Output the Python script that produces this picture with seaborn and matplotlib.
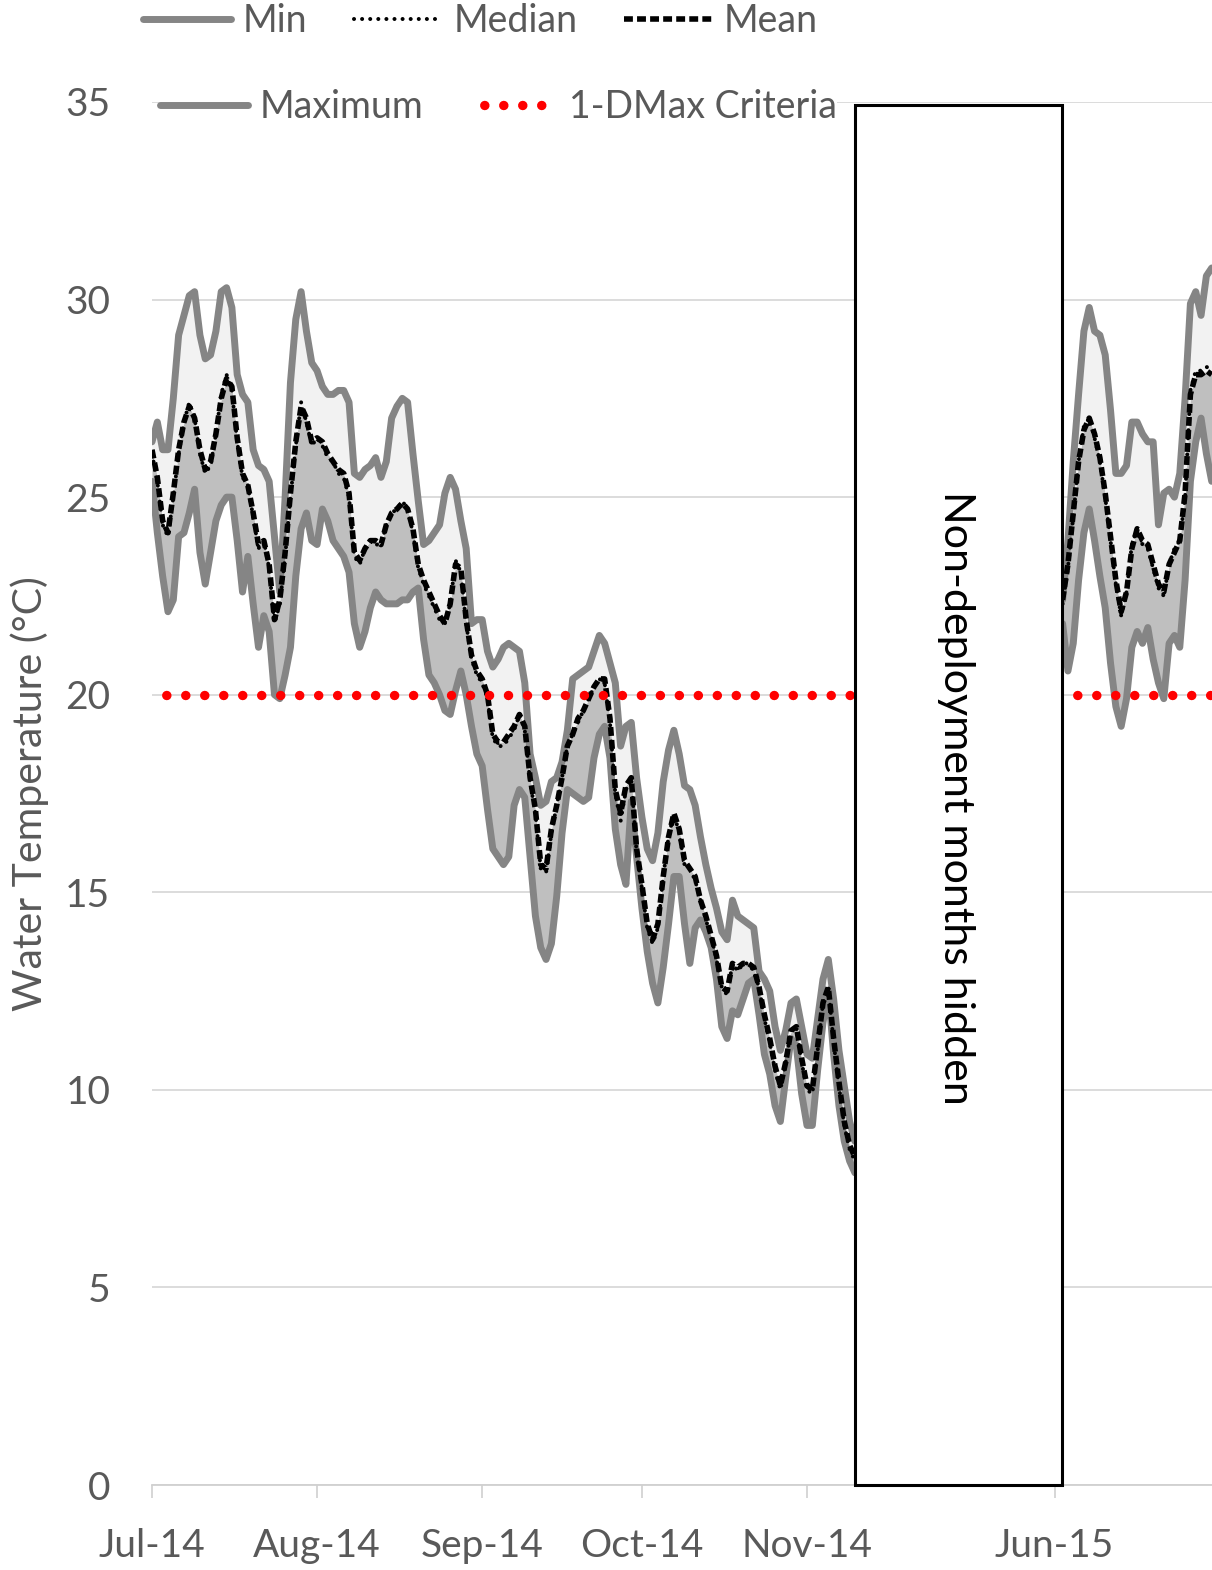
import numpy as np
import pandas as pd
import matplotlib
matplotlib.use("Agg")
import matplotlib.pyplot as plt
from matplotlib.lines import Line2D
from matplotlib.patches import Rectangle
import seaborn as sns

# ---------------- data (daily values) ----------------
# segment 1: 1 Jul 2014 .. 10 Nov 2014 (day index 0..132)
max_2014 = [26.4, 26.9, 26.2, 26.2, 27.5, 29.1, 29.6, 30.1, 30.2, 29.1,
            28.5, 28.6, 29.2, 30.2, 30.3, 29.8, 28.1, 27.6, 27.4, 26.2,
            25.8, 25.7, 25.4, 24.0, 22.6, 25.0, 27.9, 29.5, 30.2, 29.2,
            28.4, 28.2, 27.8, 27.6, 27.6, 27.7, 27.7, 27.4, 25.6, 25.5,
            25.7, 25.8, 26.0, 25.5, 25.9, 27.0, 27.3, 27.5, 27.4, 26.1,
            24.9, 23.8, 23.9, 24.1, 24.3, 25.1, 25.5, 25.2, 24.4, 23.7,
            21.8, 21.9, 21.9, 21.1, 20.7, 20.9, 21.2, 21.3, 21.2, 21.1,
            20.3, 18.5, 17.9, 17.2, 17.3, 17.8, 17.9, 18.3, 19.1, 20.4,
            20.5, 20.6, 20.7, 21.1, 21.5, 21.3, 20.8, 20.3, 18.7, 19.2,
            19.3, 17.9, 16.9, 16.1, 15.8, 16.5, 17.8, 18.6, 19.1, 18.5,
            17.7, 17.6, 17.2, 16.4, 15.7, 15.1, 14.6, 14.0, 13.8, 14.8,
            14.4, 14.3, 14.2, 14.1, 13.0, 12.8, 12.5, 11.6, 11.0, 11.5,
            12.2, 12.3, 11.6, 10.9, 10.8, 11.8, 12.8, 13.3, 12.3, 11.0,
            10.1, 9.2, 8.7]
min_2014 = [25.4, 24.1, 23.0, 22.1, 22.4, 24.0, 24.1, 24.6, 25.2, 23.6,
            22.8, 23.6, 24.4, 24.8, 25.0, 25.0, 23.9, 22.6, 23.5, 22.3,
            21.2, 22.0, 21.6, 20.0, 19.9, 20.5, 21.2, 23.0, 24.2, 24.6,
            23.9, 23.8, 24.7, 24.4, 23.9, 23.7, 23.5, 23.1, 21.8, 21.2,
            21.6, 22.2, 22.6, 22.4, 22.3, 22.3, 22.3, 22.4, 22.4, 22.6,
            22.7, 21.4, 20.5, 20.3, 20.0, 19.6, 19.5, 20.1, 20.6, 20.0,
            19.2, 18.5, 18.2, 17.1, 16.1, 15.9, 15.7, 15.9, 17.2, 17.6,
            17.4, 15.9, 14.4, 13.6, 13.3, 13.7, 14.9, 16.5, 17.6, 17.5,
            17.4, 17.3, 17.4, 18.4, 19.0, 19.2, 18.4, 16.6, 15.7, 15.2,
            17.3, 15.9, 14.6, 13.5, 12.7, 12.2, 13.1, 14.2, 15.4, 15.4,
            14.2, 13.2, 14.1, 14.3, 14.0, 13.6, 12.8, 11.6, 11.3, 12.0,
            11.9, 12.3, 12.7, 12.8, 11.9, 10.9, 10.4, 9.6, 9.2, 10.3,
            11.3, 11.1, 9.9, 9.1, 9.1, 10.5, 11.7, 12.5, 10.9, 9.6,
            8.7, 8.2, 7.9]
mean_2014 = [26.2, 25.5, 24.4, 24.1, 25.1, 26.2, 26.9, 27.3, 27.0, 26.2,
             25.7, 25.9, 26.6, 27.5, 28.0, 27.8, 26.5, 25.6, 25.3, 24.6,
             23.8, 23.9, 23.3, 21.9, 22.4, 23.6, 25.1, 26.4, 27.3, 27.0,
             26.4, 26.5, 26.4, 26.1, 25.9, 25.7, 25.6, 25.1, 23.6, 23.4,
             23.7, 23.9, 23.9, 23.8, 24.3, 24.6, 24.7, 24.85, 24.7, 24.2,
             23.3, 22.9, 22.6, 22.3, 22.0, 21.8, 22.3, 23.3, 23.2, 21.9,
             21.0, 20.6, 20.4, 20.0, 19.0, 18.8, 18.8, 19.0, 19.2, 19.5,
             19.2, 17.9, 17.1, 15.7, 15.6, 16.6, 17.2, 17.9, 18.7, 19.0,
             19.4, 19.6, 19.9, 20.2, 20.4, 20.4, 19.4, 17.6, 17.0, 17.7,
             17.9, 16.1, 15.2, 14.2, 13.8, 14.2, 15.4, 16.4, 17.0, 16.6,
             15.8, 15.6, 15.4, 14.8, 14.4, 13.9, 13.4, 12.6, 12.5, 13.2,
             13.1, 13.2, 13.2, 13.1, 12.6, 11.9, 11.3, 10.6, 10.1, 10.7,
             11.5, 11.6, 10.8, 10.1, 10.0, 11.1, 12.2, 12.6, 11.3, 10.2,
             9.2, 8.6, 8.3]
median_2014 = [26.1, 25.4, 24.3, 24.0, 25.0, 26.1, 26.9, 27.4, 27.0, 26.1,
               25.6, 25.8, 26.6, 27.6, 28.1, 27.7, 26.4, 25.5, 25.3, 24.5,
               23.7, 23.9, 23.2, 21.8, 22.3, 23.5, 25.0, 26.3, 27.4, 26.9,
               26.3, 26.5, 26.3, 26.0, 25.9, 25.6, 25.5, 25.0, 23.5, 23.3,
               23.7, 23.9, 23.8, 23.8, 24.3, 24.6, 24.7, 24.9, 24.7, 24.1,
               23.2, 22.8, 22.5, 22.2, 21.9, 21.8, 22.3, 23.4, 23.1, 21.8,
               20.9, 20.5, 20.3, 19.9, 18.9, 18.7, 18.7, 18.9, 19.1, 19.5,
               19.1, 17.8, 17.0, 15.6, 15.5, 16.5, 17.2, 17.9, 18.7, 19.0,
               19.3, 19.6, 19.9, 20.2, 20.4, 20.3, 19.3, 17.5, 16.8, 17.6,
               17.9, 16.0, 15.1, 14.1, 13.7, 14.1, 15.4, 16.4, 17.0, 16.5,
               15.7, 15.6, 15.3, 14.8, 14.3, 13.9, 13.3, 12.6, 12.4, 13.2,
               13.0, 13.2, 13.2, 13.0, 12.6, 11.8, 11.2, 10.5, 10.0, 10.7,
               11.5, 11.6, 10.7, 10.0, 9.9, 11.0, 12.2, 12.6, 11.2, 10.1,
               9.1, 8.5, 8.2]

# segment 2: June 2015 (day index 171..199 on the compressed axis)
max_2015 = [22.4, 23.9, 25.9, 27.6, 29.2, 29.8, 29.2, 29.1, 28.6, 27.2,
            25.6, 25.6, 25.8, 26.9, 26.9, 26.6, 26.4, 26.4, 24.3, 25.1,
            25.2, 25.0, 25.6, 27.5, 29.9, 30.2, 29.6, 30.6, 30.8]
min_2015 = [21.8, 20.6, 21.3, 22.9, 24.1, 24.7, 23.9, 23.0, 22.2, 20.8,
            19.7, 19.2, 19.9, 21.2, 21.6, 21.3, 21.7, 20.9, 20.3, 19.9,
            21.3, 21.5, 21.2, 22.9, 25.4, 26.4, 27.0, 26.1, 25.4]
mean_2015 = [22.4, 23.3, 24.6, 25.9, 26.7, 27.0, 26.6, 26.0, 25.1, 24.0,
             22.9, 22.1, 22.6, 23.7, 24.2, 23.9, 23.8, 23.3, 22.8, 22.6,
             23.3, 23.6, 23.9, 25.1, 27.6, 28.1, 28.1, 28.2, 28.1]
median_2015 = [22.3, 23.2, 24.5, 25.9, 26.8, 27.0, 26.5, 25.9, 25.0, 23.9,
               22.8, 22.0, 22.6, 23.8, 24.2, 23.8, 23.7, 23.2, 22.7, 22.5,
               23.3, 23.7, 23.9, 25.0, 27.7, 28.2, 28.2, 28.3, 28.2]

criteria = 20.0

month_labels = ["Jul-14", "Aug-14", "Sep-14", "Oct-14", "Nov-14", "Jun-15"]
month_pos = [0, 31, 62, 92, 123, 169.5]
hidden_start, hidden_end = 132.1, 170.8
box_text = "Non-deployment months hidden"
y_label = "Water Temperature (°C)"

# ---------------- frames ----------------
days1 = np.arange(0, len(max_2014))
days2 = np.arange(171, 171 + len(max_2015))
seg1 = pd.DataFrame({"day": days1, "Max": max_2014, "Min": min_2014,
                     "Mean": mean_2014, "Median": median_2014,
                     "Crit": criteria})
seg2 = pd.DataFrame({"day": days2, "Max": max_2015, "Min": min_2015,
                     "Mean": mean_2015, "Median": median_2015,
                     "Crit": criteria})
segments = [seg1, seg2]

# ---------------- style ----------------
sns.set_theme(style="white")
plt.rcParams['font.family'] = ['Lato', 'DejaVu Sans']
TXT = "#595959"
GRAY = "#858585"
DARK_FILL = "#bfbfbf"
LIGHT_FILL = "#f2f2f2"
LW_GRAY = 5.0
MED_STYLE = dict(lw=2.9, linestyle=(0, (0.01, 2.0)), dash_capstyle="round")
MEAN_STYLE = dict(lw=4.0, linestyle=(0, (1.6, 0.75)))
CRIT_STYLE = dict(lw=6.8, linestyle=(0.5, (0.01, 2.0)), dash_capstyle="round")

W, H = 1212, 1570
fig = plt.figure(figsize=(W / 100, H / 100), dpi=100)
ax = fig.add_axes([152 / W, 85 / H, 1060 / W, 1383 / H])

px_per_day = (807 - 152) / 123
ax.set_xlim(0, 1060 / px_per_day)
ax.set_ylim(0, 35)

for seg in segments:
    ax.fill_between(seg["day"], seg["Min"], seg["Mean"], color=DARK_FILL,
                    lw=0, zorder=1)
    ax.fill_between(seg["day"], seg["Mean"], seg["Max"], color=LIGHT_FILL,
                    lw=0, zorder=1)
    sns.lineplot(data=seg, x="day", y="Max", ax=ax, color=GRAY, lw=LW_GRAY,
                 zorder=3, legend=False)
    sns.lineplot(data=seg, x="day", y="Min", ax=ax, color=GRAY, lw=LW_GRAY,
                 zorder=3, legend=False)
    sns.lineplot(data=seg, x="day", y="Mean", ax=ax, color="black",
                 zorder=4, legend=False, **MEAN_STYLE)
    sns.lineplot(data=seg, x="day", y="Median", ax=ax, color="black",
                 zorder=5, legend=False, **MED_STYLE)
    sns.lineplot(data=seg, x="day", y="Crit", ax=ax, color="#ff0000",
                 zorder=6, legend=False, **CRIT_STYLE)

# hidden-months box
ax.add_patch(Rectangle((hidden_start, 0), hidden_end - hidden_start, 34.93,
                       facecolor="white", edgecolor="black", lw=2.2,
                       zorder=8, clip_on=False))
ax.text((hidden_start + hidden_end) / 2 - 0.5, 17.4, box_text,
        rotation=-90, ha="center", va="center", fontsize=31, color="black",
        zorder=9)

# grid / axes
ax.set_yticks(np.arange(0, 36, 5))
ax.yaxis.grid(True, color="#d9d9d9", lw=1.3, zorder=0)
ax.xaxis.grid(False)
ax.set_axisbelow(True)
for s in ["top", "right", "left"]:
    ax.spines[s].set_visible(False)
ax.spines["bottom"].set_color("#d0d0d0")
ax.spines["bottom"].set_linewidth(1.3)
ax.set_xticks(month_pos)
ax.set_xticklabels(month_labels)
ax.tick_params(axis="x", direction="out", length=9, width=1.2,
               color="#d0d0d0", pad=22, labelsize=28, labelcolor=TXT,
               bottom=True)
ax.tick_params(axis="y", length=0, pad=30, labelsize=28, labelcolor=TXT)
ax.set_xlabel("")
ax.set_ylabel(y_label, fontsize=29.5, color=TXT)
ax.yaxis.set_label_coords(-0.097, 0.5)

# legends (two rows)
h_min = Line2D([], [], color=GRAY, lw=LW_GRAY)
h_med = Line2D([], [], color="black", **MED_STYLE)
h_mean = Line2D([], [], color="black", **MEAN_STYLE)
h_max = Line2D([], [], color=GRAY, lw=LW_GRAY)
h_crit = Line2D([], [], color="#ff0000", **CRIT_STYLE)

common = dict(frameon=True, fancybox=False, facecolor="white",
              edgecolor="none", framealpha=1, fontsize=27, borderpad=0.0,
              handlelength=2.35, handletextpad=0.3, columnspacing=1.25,
              labelcolor=TXT, borderaxespad=0)
leg1 = fig.legend([h_min, h_med, h_mean], ["Min", "Median", "Mean"],
                  loc="center left", bbox_to_anchor=(143 / W, 1 - 21 / H),
                  ncol=3, **common)
leg2 = fig.legend([h_max, h_crit], ["Maximum", "1-DMax Criteria"],
                  loc="center left", bbox_to_anchor=(160 / W, 1 - 107 / H),
                  ncol=2, **common)
leg2.set_zorder(20)

fig.savefig("out.png", dpi=100)
